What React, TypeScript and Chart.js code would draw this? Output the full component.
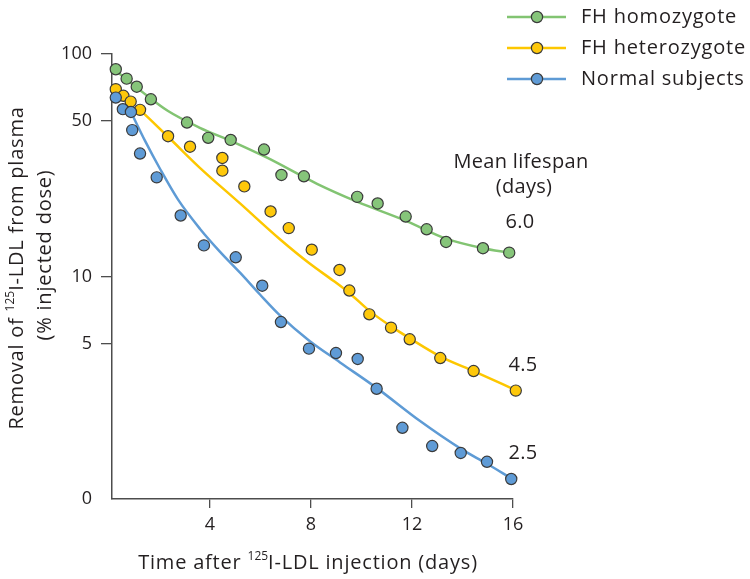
import { useEffect, useRef } from 'react';
import { Chart, registerables } from 'chart.js';

Chart.register(...registerables);

const FONT = "'Open Sans', 'Noto Sans', sans-serif";

// ---- data ----
const seriesNames = ['FH homozygote', 'FH heterozygote', 'Normal subjects'];
const lifespanTitle = ['Mean lifespan', '(days)'];
const lifespanLabels = ['6.0', '4.5', '2.5'];

const homoDays = [0.27, 0.7, 1.1, 1.66, 3.09, 3.93, 4.82, 6.14, 6.83, 7.72, 9.83, 10.64, 11.75, 12.58, 13.35, 14.81, 15.85];
const homoValues = [85.4, 77.5, 71.3, 62.6, 49.2, 42.0, 41.1, 37.2, 28.6, 28.2, 22.8, 21.3, 18.6, 16.3, 14.3, 13.4, 12.8];

const heteroDays = [0.27, 0.57, 0.86, 1.23, 2.34, 3.21, 4.49, 4.49, 5.36, 6.4, 7.12, 8.03, 9.13, 9.52, 10.31, 11.17, 11.91, 13.12, 14.44, 16.11];
const heteroValues = [69.5, 64.9, 61.1, 56.1, 42.7, 38.3, 34.1, 29.9, 25.4, 19.6, 16.5, 13.2, 10.7, 8.65, 6.76, 5.89, 5.22, 4.3, 3.76, 3.07];

const normalDays = [0.27, 0.55, 0.87, 0.92, 1.23, 1.89, 2.84, 3.76, 5.02, 6.07, 6.81, 7.92, 8.99, 9.85, 10.6, 11.62, 12.8, 13.93, 14.97, 15.93];
const normalValues = [63.7, 56.5, 54.9, 45.5, 35.7, 27.9, 18.8, 13.8, 12.2, 9.09, 6.24, 4.74, 4.53, 4.26, 3.13, 2.09, 1.73, 1.61, 1.47, 1.23];

// fitted curves
const homoFitDays = [0.28, 1.27, 2.34, 3.6, 4.91, 6.26, 8.24, 9.82, 11.76, 13.35, 14.81, 15.84];
const homoFitValues = [83.9, 68.2, 55.4, 46.6, 40.3, 34.2, 26.1, 21.7, 17.8, 14.8, 13.4, 12.8];

const heteroFitDays = [1.23, 2.42, 3.6, 5.19, 6.77, 7.96, 8.87, 9.54, 10.34, 11.17, 11.92, 13.11, 14.46, 16.12];
const heteroFitValues = [56.1, 41.6, 30.8, 21.3, 14.7, 11.4, 9.6, 8.39, 6.97, 5.97, 5.27, 4.38, 3.75, 3.08];

const normalFitDays = [0.87, 1.43, 2.02, 2.73, 3.6, 4.4, 5.19, 5.98, 6.77, 7.92, 9.15, 10.61, 12.32, 13.94, 14.97, 15.92];
const normalFitValues = [54.9, 40.7, 30.5, 22.2, 16.4, 12.9, 10.4, 8.3, 6.69, 5.16, 4.11, 3.15, 2.24, 1.68, 1.44, 1.24];

const xTickValues = [4, 8, 12, 16];
const yTickValues = [1, 5, 10, 50, 100];
const yTickLabels = ['0', '5', '10', '50', '100'];

const X_MIN = 0.12;
const X_MAX = 16;

const fillColors = ['#86c57a', '#fec80a', '#5f9bd6'];
const lineColors = ['#82c472', '#fdc700', '#5e9bd5'];
const POINT_BORDER = '#3b3b3b';
const TEXT = '#231f20';
const AXIS = '#4d4d4d';

const zip = (xs: number[], ys: number[]) => xs.map((x, i) => ({ x, y: ys[i] }));

type Seg = { t: string; sup?: boolean };

function drawRich(ctx: CanvasRenderingContext2D, segs: Seg[], cx: number, cy: number, size: number, spacing: number) {
  const supSize = Math.round(size * 0.6);
  const setFont = (s: Seg) => {
    ctx.font = `${s.sup ? supSize : size}px ${FONT}`;
    (ctx as any).letterSpacing = `${s.sup ? 0 : spacing}px`;
  };
  const widths = segs.map((s) => {
    setFont(s);
    return ctx.measureText(s.t).width;
  });
  const total = widths.reduce((a, b) => a + b, 0);
  let x = cx - total / 2;
  ctx.textAlign = 'left';
  ctx.textBaseline = 'middle';
  segs.forEach((s, i) => {
    setFont(s);
    ctx.fillText(s.t, x, s.sup ? cy - size * 0.3 : cy);
    x += widths[i];
  });
  (ctx as any).letterSpacing = '0px';
}

const annotationPlugin = {
  id: 'annotations',
  afterDraw(chart: any) {
    const ctx: CanvasRenderingContext2D = chart.ctx;
    ctx.save();
    ctx.fillStyle = TEXT;
    const size = 20;
    const sp = 0.8;

    // legend
    const rows = [17, 48, 79];
    seriesNames.forEach((name, i) => {
      const y = rows[i];
      ctx.strokeStyle = lineColors[i];
      ctx.lineWidth = 2.5;
      ctx.beginPath();
      ctx.moveTo(507, y);
      ctx.lineTo(566, y);
      ctx.stroke();
      ctx.beginPath();
      ctx.arc(537, y, 5.6, 0, Math.PI * 2);
      ctx.fillStyle = fillColors[i];
      ctx.fill();
      ctx.lineWidth = 1.2;
      ctx.strokeStyle = POINT_BORDER;
      ctx.stroke();
      ctx.fillStyle = TEXT;
      ctx.font = `${size}px ${FONT}`;
      (ctx as any).letterSpacing = `${sp}px`;
      ctx.textAlign = 'left';
      ctx.textBaseline = 'middle';
      ctx.fillText(name, 581, y);
    });

    // mean lifespan
    ctx.textAlign = 'center';
    (ctx as any).letterSpacing = '0.3px';
    ctx.fillText(lifespanTitle[0], 521, 162);
    ctx.fillText(lifespanTitle[1], 524, 187);
    ctx.fillText(lifespanLabels[0], 520, 222);
    ctx.fillText(lifespanLabels[1], 523, 365);
    ctx.fillText(lifespanLabels[2], 523, 453);
    (ctx as any).letterSpacing = '0px';

    // x axis title
    drawRich(ctx, [{ t: 'Time after ' }, { t: '125', sup: true }, { t: 'I-LDL injection (days)' }], 308, 563, size, sp);

    // y axis title
    ctx.save();
    ctx.translate(17, 268);
    ctx.rotate(-Math.PI / 2);
    drawRich(ctx, [{ t: 'Removal of ' }, { t: '125', sup: true }, { t: 'I-LDL from plasma' }], 0, 0, size, sp);
    ctx.restore();
    ctx.save();
    ctx.translate(45, 255);
    ctx.rotate(-Math.PI / 2);
    drawRich(ctx, [{ t: '(% injected dose)' }], 0, 0, size, sp);
    ctx.restore();

    ctx.restore();
  },
};

export default function App() {
  const ref = useRef<HTMLCanvasElement | null>(null);

  useEffect(() => {
    const canvas = ref.current;
    if (!canvas) return;
    document.body.style.margin = '0';

    const pointDs = (label: string, xs: number[], ys: number[], i: number) => ({
      type: 'scatter' as const,
      label,
      data: zip(xs, ys),
      backgroundColor: fillColors[i],
      borderColor: POINT_BORDER,
      pointRadius: 5.6,
      pointBorderWidth: 1.2,
      showLine: false,
      clip: false as any,
      order: 0,
    });
    const lineDs = (label: string, xs: number[], ys: number[], i: number) => ({
      type: 'line' as const,
      label,
      data: zip(xs, ys),
      borderColor: lineColors[i],
      borderWidth: 2.5,
      pointRadius: 0,
      tension: 0.4,
      cubicInterpolationMode: 'monotone' as const,
      fill: false,
      clip: false as any,
      order: 1,
    });

    const chart = new Chart(canvas, {
      type: 'scatter',
      data: {
        datasets: [
          pointDs(seriesNames[2], normalDays, normalValues, 2),
          pointDs(seriesNames[1], heteroDays, heteroValues, 1),
          pointDs(seriesNames[0], homoDays, homoValues, 0),
          lineDs(seriesNames[0] + ' fit', homoFitDays, homoFitValues, 0),
          lineDs(seriesNames[1] + ' fit', heteroFitDays, heteroFitValues, 1),
          lineDs(seriesNames[2] + ' fit', normalFitDays, normalFitValues, 2),
        ] as any,
      },
      options: {
        animation: false,
        responsive: false,
        maintainAspectRatio: false,
        layout: { padding: { left: 0, right: 750 - 513, top: 54, bottom: 0 } },
        plugins: {
          legend: { display: false },
          tooltip: { enabled: false },
        },
        scales: {
          x: {
            type: 'linear',
            min: X_MIN,
            max: X_MAX,
            afterBuildTicks: (s: any) => {
              s.ticks = xTickValues.map((v) => ({ value: v }));
            },
            afterFit: (s: any) => {
              s.height = 579 - 499;
            },
            grid: { drawOnChartArea: false, drawTicks: true, tickLength: 9, color: AXIS, lineWidth: 1.3 },
            border: { display: true, color: AXIS, width: 1.5 },
            ticks: {
              font: { family: FONT, size: 18 },
              color: TEXT,
              padding: 6,
              maxRotation: 0,
              autoSkip: false,
            },
          },
          y: {
            type: 'logarithmic',
            min: 1,
            max: 100,
            afterBuildTicks: (s: any) => {
              s.ticks = yTickValues.map((v) => ({ value: v }));
            },
            afterFit: (s: any) => {
              s.width = 112;
            },
            grid: {
              drawOnChartArea: false,
              drawTicks: true,
              tickLength: 11,
              color: AXIS,
              tickColor: (c: any) => (c.tick && c.tick.value === 1 ? 'rgba(0,0,0,0)' : AXIS),
              lineWidth: 1.3,
            },
            border: { display: true, color: AXIS, width: 1.5 },
            ticks: {
              font: { family: FONT, size: 18 },
              color: TEXT,
              padding: 9,
              autoSkip: false,
              callback: (v: any) => {
                const i = yTickValues.indexOf(Number(v));
                return i >= 0 ? yTickLabels[i] : '';
              },
            },
          },
        },
      },
      plugins: [annotationPlugin],
    });

    return () => chart.destroy();
  }, []);

  return (
    <div style={{ position: 'fixed', left: 0, top: 0, width: 750, height: 579, background: '#fff' }}>
      <canvas ref={ref} width={750} height={579} style={{ width: 750, height: 579, display: 'block' }} />
    </div>
  );
}
